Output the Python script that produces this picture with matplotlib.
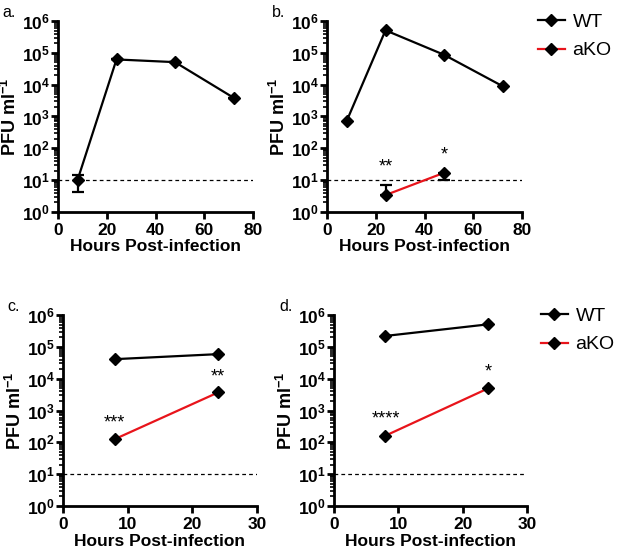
import matplotlib
matplotlib.use("Agg")
import matplotlib.pyplot as plt
from matplotlib.ticker import LogLocator, NullFormatter, FixedLocator
from matplotlib.lines import Line2D

plt.rcParams['font.family'] = ['Liberation Sans', 'DejaVu Sans']
plt.rcParams['mathtext.fontset'] = 'custom'
plt.rcParams['mathtext.rm'] = 'Liberation Sans:bold'
plt.rcParams['mathtext.bf'] = 'Liberation Sans:bold'
plt.rcParams['mathtext.default'] = 'bf'

# ---- data ----
a_hours = [8, 24, 48, 72]
a_wt = [10, 62000, 51000, 3900]
a_wt_err_lo = [5.8, 0, 0, 0]
a_wt_err_hi = [5, 0, 0, 0]

b_hours = [8, 24, 48, 72]
b_wt = [700, 510000, 87000, 9000]
b_ko_hours = [24, 48]
b_ko = [3.4, 17]
b_ko_err_lo = [0, 7]
b_ko_err_hi = [3.9, 0]
b_sig = ["**", "*"]
b_sig_y = [26, 60]

c_hours = [8, 24]
c_wt = [41000, 59000]
c_ko = [126, 3700]
c_sig = ["***", "**"]
c_sig_y = [420, 11000]

d_hours = [8, 24]
d_wt = [220000, 510000]
d_ko = [162, 5000]
d_sig = ["****", "*"]
d_sig_y = [560, 16500]

series_names = ["WT", "aKO"]
series_colors = ["black", "#e8141b"]
panel_labels = ["a.", "b.", "c.", "d."]
y_ticks = [1, 10, 100, 1e3, 1e4, 1e5, 1e6]
y_tick_labels = [r"$10^{0}$", r"$10^{1}$", r"$10^{2}$", r"$10^{3}$",
                 r"$10^{4}$", r"$10^{5}$", r"$10^{6}$"]
detection_limit = 10

fig = plt.figure(figsize=(6.17, 5.52), dpi=100)
W, H = 617, 552
def rect(l, t, r, b):
    return [l / W, 1 - b / H, (r - l) / W, (b - t) / H]

ax_a = fig.add_axes(rect(58, 21, 253, 212))
ax_b = fig.add_axes(rect(327, 21, 522, 212))
ax_c = fig.add_axes(rect(63, 315, 257, 506))
ax_d = fig.add_axes(rect(334, 315, 527, 506))

lw = 1.6
ms = 6

def style(ax, xmax, xticks, label):
    ax.set_yscale('log')
    ax.set_ylim(1, 1e6)
    ax.set_xlim(0, xmax)
    ax.set_xticks(xticks)
    ax.set_xticklabels([str(t) for t in xticks], fontsize=12.5, fontweight='bold')
    ax.yaxis.set_major_locator(FixedLocator(y_ticks))
    ax.set_yticklabels(y_tick_labels, fontsize=12.5)
    ax.yaxis.set_minor_locator(LogLocator(base=10, subs=range(2, 10), numticks=20))
    ax.yaxis.set_minor_formatter(NullFormatter())
    for s in ['top', 'right']:
        ax.spines[s].set_visible(False)
    for s in ['left', 'bottom']:
        ax.spines[s].set_linewidth(2)
    ax.tick_params(axis='both', which='major', width=2, length=5)
    ax.tick_params(axis='y', which='major', pad=1)
    ax.tick_params(axis='x', which='major', pad=3)
    ax.tick_params(axis='y', which='minor', width=1.2, length=3)
    ax.set_xlabel("Hours Post-infection", fontsize=12.5, fontweight='bold', labelpad=1)
    ax.set_ylabel(r"PFU ml$^{-1}$", fontsize=13, fontweight='bold', labelpad=1)
    ax.axhline(detection_limit, color='black', lw=0.9, ls=(0, (3, 2.5)), zorder=1)
    ax.text(-0.285, 1.005, label, transform=ax.transAxes, fontsize=11.5, va='bottom', ha='left')

# a
style(ax_a, 80, [0, 20, 40, 60, 80], panel_labels[0])
ax_a.errorbar(a_hours, a_wt, yerr=[a_wt_err_lo, a_wt_err_hi], color=series_colors[0],
              marker='D', ms=ms, lw=lw, capsize=4, capthick=1.6, elinewidth=1.6, zorder=3)

# b
style(ax_b, 80, [0, 20, 40, 60, 80], panel_labels[1])
ax_b.plot(b_hours, b_wt, color=series_colors[0], marker='D', ms=ms, lw=lw, zorder=3,
          mfc='black', mec='black')
ax_b.errorbar(b_ko_hours, b_ko, yerr=[b_ko_err_lo, b_ko_err_hi], color=series_colors[1],
              ecolor='black', marker='D', ms=ms, mfc='black', mec='black', lw=lw,
              capsize=4, capthick=1.6, elinewidth=1.6, zorder=3)
for x, y, s in zip(b_ko_hours, b_sig_y, b_sig):
    ax_b.text(x, y, s, ha='center', va='center', fontsize=13)

# c
style(ax_c, 30, [0, 10, 20, 30], panel_labels[2])
ax_c.plot(c_hours, c_wt, color=series_colors[0], marker='D', ms=ms, lw=lw, mfc='black', mec='black', zorder=3)
ax_c.plot(c_hours, c_ko, color=series_colors[1], marker='D', ms=ms, lw=lw, mfc='black', mec='black', zorder=3)
for x, y, s in zip(c_hours, c_sig_y, c_sig):
    ax_c.text(x, y, s, ha='center', va='center', fontsize=13)

# d
style(ax_d, 30, [0, 10, 20, 30], panel_labels[3])
ax_d.plot(d_hours, d_wt, color=series_colors[0], marker='D', ms=ms, lw=lw, mfc='black', mec='black', zorder=3)
ax_d.plot(d_hours, d_ko, color=series_colors[1], marker='D', ms=ms, lw=lw, mfc='black', mec='black', zorder=3)
for x, y, s in zip(d_hours, d_sig_y, d_sig):
    ax_d.text(x, y, s, ha='center', va='center', fontsize=13)

# legends
handles = [Line2D([0], [0], color=c, lw=lw, marker='D', ms=ms, mfc='black', mec='black')
           for c in series_colors]
for ax, anchor in [(ax_b, (1.04, 1.08)), (ax_d, (1.03, 1.08))]:
    ax.legend(handles, series_names, loc='upper left', bbox_to_anchor=anchor,
              frameon=False, fontsize=14, handlelength=1.4, handletextpad=0.4,
              labelspacing=0.55, borderaxespad=0)

fig.savefig("out.png", dpi=100)
